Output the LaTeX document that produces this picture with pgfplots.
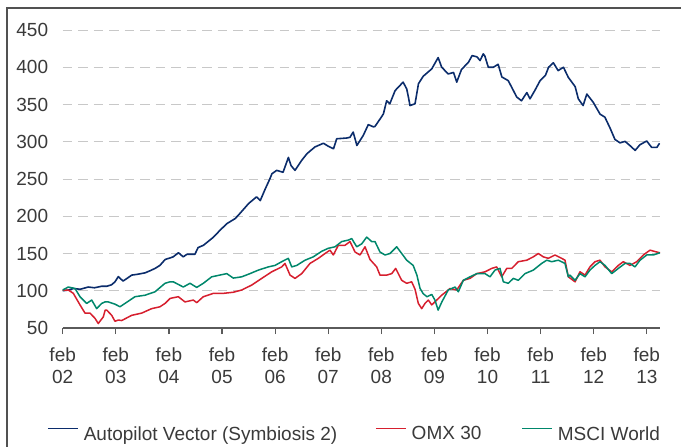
\documentclass[border=0pt]{standalone}
\usepackage{fontspec}
\setmainfont{Liberation Sans}
\usepackage{pgfplots}
\pgfplotsset{compat=1.18}
\definecolor{cblue}{HTML}{0B2C6B}
\definecolor{cred}{HTML}{D61F2E}
\definecolor{cgreen}{HTML}{00876B}
\definecolor{ctext}{HTML}{3A3A3A}
\definecolor{caxis}{HTML}{5A5A5A}
\definecolor{cgrid}{HTML}{C8C8C8}
\begin{document}
\begin{tikzpicture}
\useasboundingbox (0,0) rectangle (681bp,447bp);
\draw[line width=2bp, color=caxis!90!black] (7bp,-5bp) -- (7bp,439.3bp) -- (690bp,439.3bp);
\begin{axis}[
  at={(62.7bp,119bp)}, anchor=south west,
  scale only axis, width=597.4bp, height=298bp,
  xmin=0, xmax=11.25, ymin=50, ymax=450,
  enlargelimits=false,
  axis lines=left,
  axis line style={-},
  y axis line style={draw=none},
  x axis line style={draw=caxis, line width=1.2bp},
  ytick={50,100,...,450},
  xtick={0,1,...,11},
  xticklabels={{feb\\02},{feb\\03},{feb\\04},{feb\\05},{feb\\06},{feb\\07},{feb\\08},{feb\\09},{feb\\10},{feb\\11},{feb\\12},{feb\\13}},
  tick align=outside,
  major tick length=6bp,
  ytick style={draw=none},
  xtick style={draw=caxis, line width=1.2bp},
  ymajorgrids,
  major grid style={draw=cgrid, line width=0.9bp, dash pattern=on 9.5bp off 6bp},
  /pgf/number format/assume math mode=true,
  yticklabel style={font=\fontsize{19bp}{22bp}\selectfont, text=ctext, inner sep=0pt, anchor=east, xshift=-8.4bp},
  xticklabel style={font=\fontsize{19bp}{22bp}\selectfont, text=ctext, align=center, inner sep=0pt, anchor=north, yshift=-14bp},
  legend columns=3,
  legend style={at={(-0.0263,-0.3557)}, anchor=west, draw=none, fill=none, inner sep=0pt,
    font=\fontsize{19bp}{22bp}\selectfont, text=ctext,
    nodes={inner sep=0pt}, column sep=5bp},
  legend image code/.code={\draw[#1] (0bp,5.5bp) -- (30bp,5.5bp);},
  every axis plot/.append style={line join=round},
]
\addplot[color=cblue, line width=1.6bp] coordinates {
(0,100) (0.11,101) (0.20,103) (0.33,102) (0.48,105) (0.60,104) (0.73,106) (0.83,106) (0.92,108) (0.985,112)
(1.047,119) (1.136,113) (1.20,116) (1.30,121) (1.40,122) (1.55,124) (1.65,127) (1.74,130) (1.83,134) (1.93,142)
(2.02,144) (2.08,145.5) (2.18,151) (2.27,145.5) (2.34,149) (2.49,149) (2.55,158) (2.65,161) (2.84,172) (2.96,181)
(3.09,190) (3.25,197) (3.34,204) (3.50,217) (3.65,226) (3.72,221) (3.81,236) (3.90,250) (3.94,257) (4.03,261.6)
(4.15,259) (4.25,279) (4.30,268) (4.375,261.6) (4.50,275) (4.60,284) (4.75,293) (4.91,298) (5.00,294) (5.10,290.6)
(5.16,304) (5.35,305) (5.41,306) (5.47,313) (5.54,295) (5.66,308.5) (5.755,323) (5.85,320) (5.88,320.5) (6.00,333)
(6.04,337.5) (6.10,355) (6.16,351) (6.26,368.7) (6.41,380) (6.478,371) (6.51,360) (6.54,348.6) (6.635,351) (6.70,378)
(6.79,388) (6.95,397.8) (7.07,413) (7.137,400) (7.26,391) (7.36,393) (7.42,380) (7.51,397) (7.64,406.6) (7.71,415.6)
(7.80,414) (7.86,409) (7.92,418) (7.95,415) (8.015,400) (8.11,400) (8.20,404) (8.27,387) (8.39,382) (8.456,373)
(8.55,360) (8.64,355) (8.74,366) (8.80,357.6) (8.89,368.7) (8.99,382) (9.09,389) (9.15,400) (9.24,406) (9.33,395.5)
(9.43,400) (9.52,386.6) (9.65,374) (9.71,357.6) (9.80,348.6) (9.87,364) (9.99,353) (10.12,337) (10.21,333) (10.31,318)
(10.40,303) (10.495,298.5) (10.59,300.5) (10.68,295) (10.78,288.4) (10.87,296) (10.998,301) (11.09,292.5) (11.19,292.5) (11.24,298)
};
\addlegendentry{Autopilot Vector (Symbiosis 2)\rule{33bp}{0pt}}
\addplot[color=cred, line width=1.5bp] coordinates {
(0,101) (0.105,101) (0.20,96.5) (0.326,81) (0.42,70) (0.514,70) (0.608,63) (0.67,56) (0.765,65) (0.80,74)
(0.83,74) (0.923,67) (0.985,59) (1.047,60.7) (1.111,60) (1.299,67) (1.488,70) (1.676,76) (1.832,78.5) (1.927,83)
(2.021,89.7) (2.177,92) (2.303,85) (2.46,87.5) (2.524,84) (2.648,92) (2.836,96.5) (3.024,96.5) (3.213,98) (3.371,101)
(3.559,107.6) (3.748,116.6) (3.936,125.4) (4.124,132) (4.186,136.7) (4.281,121) (4.375,116.6) (4.501,123) (4.657,136.7) (4.814,143.5)
(4.94,150) (5.034,154.5) (5.096,148) (5.19,161) (5.316,161) (5.411,166) (5.505,152) (5.599,148) (5.693,159) (5.787,142)
(5.913,132) (5.975,121) (6.102,121) (6.196,123) (6.27,130) (6.384,114) (6.478,110) (6.572,112) (6.635,102) (6.697,83)
(6.761,76) (6.823,83) (6.885,87.5) (6.95,81) (7.137,94) (7.294,103) (7.42,101) (7.544,114) (7.67,116.6) (7.797,123)
(7.953,125.4) (8.079,130) (8.173,132) (8.267,118.7) (8.362,130) (8.456,130) (8.58,139) (8.738,141) (8.862,145.5) (8.957,150)
(9.051,145.5) (9.145,143.5) (9.271,148) (9.397,143.5) (9.459,141) (9.522,118.7) (9.648,112) (9.742,125.4) (9.836,121) (9.928,132)
(10.024,139) (10.118,141) (10.213,132) (10.339,125.4) (10.463,134) (10.557,139) (10.683,134) (10.81,139) (10.934,148) (11.06,154.5)
(11.186,152) (11.248,151)
};
\addlegendentry{OMX 30\rule{35bp}{0pt}}
\addplot[color=cgreen, line width=1.5bp] coordinates {
(0,101) (0.105,105) (0.232,103) (0.326,92) (0.452,83) (0.546,87.5) (0.64,76) (0.734,83) (0.797,85) (0.859,85)
(0.985,82) (1.079,78.5) (1.173,83) (1.362,92) (1.55,94) (1.738,98.6) (1.927,110) (2.021,112) (2.083,112) (2.271,105)
(2.397,110) (2.524,104.5) (2.648,110) (2.806,118.7) (3.089,123) (3.213,117) (3.371,118.7) (3.527,123) (3.684,127.7) (3.872,132)
(3.998,134) (4.124,139) (4.249,143.5) (4.313,132) (4.407,134) (4.563,141) (4.719,145.5) (4.878,153) (5.002,157) (5.128,159)
(5.254,166) (5.379,168) (5.443,170) (5.537,159) (5.631,163) (5.725,172) (5.819,166) (5.881,166) (5.975,152) (6.07,148)
(6.164,150) (6.29,159) (6.384,150) (6.478,141) (6.60,134) (6.67,121) (6.73,103) (6.79,96) (6.86,92) (6.95,95)
(7.01,87.5) (7.07,74) (7.14,85) (7.26,101) (7.39,105) (7.45,98.6) (7.544,114) (7.67,118.7) (7.80,123) (7.953,123)
(8.047,118.7) (8.141,127.7) (8.235,130) (8.297,112) (8.392,110) (8.486,116.6) (8.58,114) (8.706,123) (8.862,127.7) (9.02,136.7)
(9.115,141) (9.209,139) (9.333,141) (9.459,136.7) (9.522,118.7) (9.55,121) (9.648,114) (9.742,123) (9.836,118.7) (9.928,127.7)
(10.024,134) (10.118,139) (10.213,134) (10.339,123) (10.463,130) (10.589,136.7) (10.683,136.7) (10.777,132) (10.872,141) (10.998,148)
(11.122,148) (11.248,151)
};
\addlegendentry{MSCI World}
\end{axis}
\end{tikzpicture}
\end{document}
